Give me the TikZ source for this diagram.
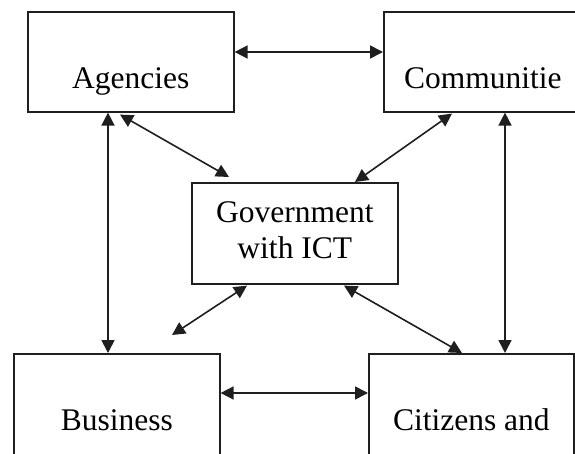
\documentclass[tikz,border=0pt]{standalone}
\usepackage{fontspec}
\setmainfont{Liberation Serif}
\usetikzlibrary{arrows.meta,calc}
\begin{document}
\begin{tikzpicture}[x=1pt,y=-1pt,
  box/.style={draw=black!88, line width=1.6pt, rectangle, inner sep=0pt,
    anchor=north west, text height=77pt,
    font=\fontsize{31.5}{36}\selectfont},
  link/.style={draw=black!88, line width=1.6pt,
    {Triangle[length=13pt,width=13pt]}-{Triangle[length=13pt,width=13pt]}}]
\useasboundingbox (0,0) rectangle (575,454);
\begin{scope}
\clip (0,0) rectangle (575,454);
% the five boxes
\node[box, minimum width=206pt, text depth=23pt] (agbox) at (27,11) {Agencies};
\node[box, minimum width=198pt, text depth=23pt] (cobox) at (383,11) {Communitie};
\node[box, minimum width=206pt, text depth=33pt] (bubox) at (13,353) {Business};
\node[box, minimum width=205pt, text depth=33pt] (cibox) at (368,353) {Citizens and};
\node[box, minimum width=206pt, text height=76pt, text depth=25pt, align=center]
  (gov) at (191,182) {Government\\with ICT};
\coordinate (loose) at (172,335);
% two-way links
\draw[link] ($(agbox.north east)+(0,41)$) -- ($(cobox.north west)+(0,41)$);
\draw[link] ($(bubox.north east)+(0,40)$) -- ($(cibox.north west)+(0,40)$);
\draw[link] ($(agbox.south west)+(81,0)$) -- ($(bubox.north west)+(95,0)$);
\draw[link] ($(cobox.south west)+(122,0)$) -- ($(cibox.north west)+(137,0)$);
\draw[link] ($(agbox.south west)+(93,2)$) -- ($(gov.north west)+(38,-5)$);
\draw[link] ($(cobox.south west)+(69,1)$) -- ($(gov.north west)+(164,0)$);
\draw[link] ($(gov.south west)+(56,1)$) -- (loose);
\draw[link] ($(gov.south west)+(153,1)$) -- ($(cibox.north west)+(94,0)$);
\end{scope}
\end{tikzpicture}
\end{document}
